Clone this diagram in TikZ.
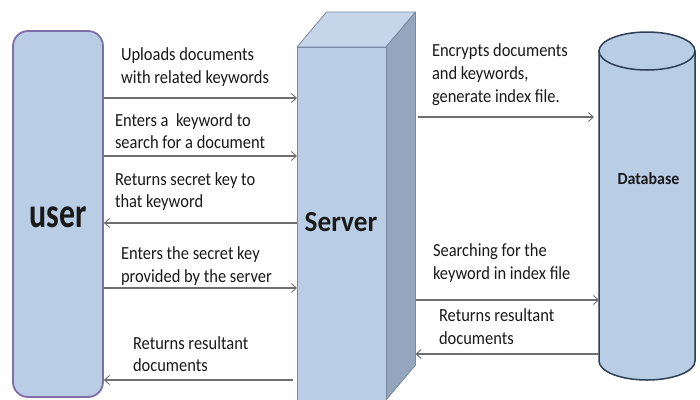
\documentclass[tikz,border=0pt]{standalone}
\usepackage{fontspec}
\setmainfont{Carlito}
\newfontfamily\lblfont{Carlito}[FakeStretch=0.89]
\newfontfamily\userfont{Carlito}[FakeStretch=0.76]
\newfontfamily\srvfont{Carlito}[FakeStretch=0.94]
\usetikzlibrary{arrows.meta}

\definecolor{boxfill}{RGB}{185,205,229}
\definecolor{topfill}{RGB}{198,214,234}
\definecolor{sidefill}{RGB}{148,166,189}
\definecolor{srvedge}{RGB}{120,138,162}
\definecolor{useredge}{RGB}{128,110,168}
\definecolor{dbedge}{RGB}{45,62,86}
\definecolor{flowgray}{RGB}{110,110,110}
\definecolor{ink}{RGB}{25,25,25}

\tikzset{
  userbox/.style={draw=useredge, line width=1.8pt, fill=boxfill, rounded corners=15pt,
    minimum width=90pt, minimum height=366pt, inner sep=0pt},
  srvface/.style={draw=srvedge, line width=0.8pt, line join=round},
  ghost/.style={inner sep=0pt, outer sep=0pt},
  dbline/.style={draw=dbedge, line width=1.5pt, fill=boxfill},
  flow/.style={draw=flowgray, line width=1.1pt, -{Straight Barb[length=5pt,width=9pt,line width=0.9pt]}},
  % multi-line labels: the base anchor sits on the last line
  msg/.style={ghost, anchor=base west, align=left, text=ink,
    font=\lblfont\fontsize{18.5}{22.6}\selectfont},
  title/.style={ghost, anchor=base, text=ink, font=\bfseries}
}

\begin{document}
\begin{tikzpicture}[x=1pt,y=-1pt]
\useasboundingbox (0,0) rectangle (700,399);

% client
\node[userbox] (user) at (58,214) {};
\node[title, font=\userfont\bfseries\fontsize{42}{44}\selectfont] (usertxt) at (58,227) {user};

% server drawn as a box: front, top and right side faces
\node[ghost, minimum width=89pt, minimum height=353pt] (server) at (341.5,223.5) {};
\node[ghost, minimum width=89pt, minimum height=353pt] (serverback) at (371,188.5) {};
\fill[topfill, srvface] (server.north west) -- (serverback.north west) -- (serverback.north east) -- (server.north east) -- cycle;
\fill[sidefill, srvface] (server.north east) -- (serverback.north east) -- (serverback.south east) -- (server.south east) -- cycle;
\fill[boxfill, srvface] (server.north west) rectangle (server.south east);
\node[title, font=\srvfont\bfseries\fontsize{29}{31}\selectfont] (srvtxt) at (341,231.5) {Server};

% database cylinder
\node[ghost, minimum width=96pt, minimum height=348pt] (db) at (647,206) {};
\path[dbline] (db.north west |- 0,51) -- (db.west |- 0,361)
  arc[start angle=180, end angle=0, x radius=48, y radius=19] -- (db.east |- 0,51);
\path[dbline] (647,51) ellipse[x radius=48, y radius=19];
\node[title, font=\srvfont\bfseries\fontsize{17}{19}\selectfont] (dbtxt) at (648.5,184) {Database};

% heights of the messages
\coordinate (a1) at (0,98);
\coordinate (a2) at (0,156);
\coordinate (a3) at (0,223);
\coordinate (a4) at (0,288);
\coordinate (a5) at (0,380);
\coordinate (a6) at (0,117);
\coordinate (a7) at (0,300);
\coordinate (a8) at (0,354);

% user <-> server
\draw[flow] (user.east |- a1) -- (server.west |- a1);
\draw[flow] (user.east |- a2) -- (server.west |- a2);
\draw[flow] (server.west |- a3) -- (user.east |- a3);
\draw[flow] (user.east |- a4) -- (server.west |- a4);
\draw[flow, shorten <=4pt] (server.west |- a5) -- (user.east |- a5);

% server <-> database
\draw[flow, shorten <=2pt, shorten >=5pt] (serverback.east |- a6) -- (db.west |- a6);
\draw[flow] (serverback.east |- a7) -- (db.west |- a7);
\draw[flow] (db.west |- a8) -- (serverback.east |- a8);

% message texts
\node[msg] (m1) at (121,83) {Uploads documents\\with related keywords};
\node[msg] (m2) at (115,148.6) {Enters a\ \ keyword to\\search for a document};
\node[msg] (m3) at (115,207.6) {Returns secret key to\\that keyword};
\node[msg] (m4) at (121,282.4) {Enters the secret key\\provided by the server};
\node[msg] (m5) at (133,371.6) {Returns resultant\\documents};
\node[msg] (m6) at (432,102) {Encrypts documents\\and keywords,\\generate index file.};
\node[msg] (m7) at (433,279.5) {Searching for the\\keyword in index file};
\node[msg] (m8) at (439,344.5) {Returns resultant\\documents};
\end{tikzpicture}
\end{document}
